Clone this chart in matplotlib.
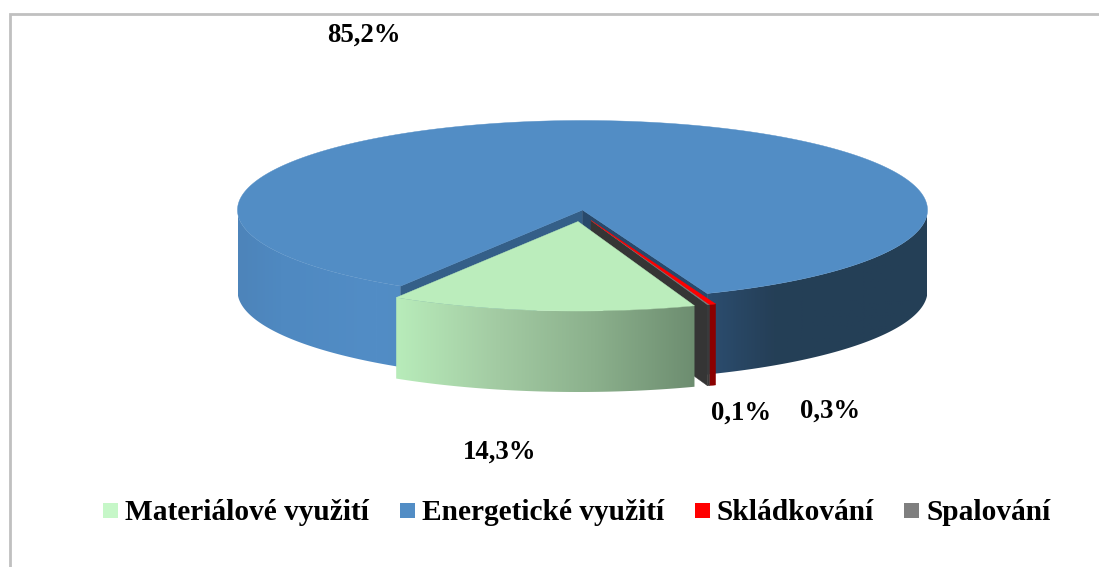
import numpy as np
import matplotlib
matplotlib.use("Agg")
import matplotlib.pyplot as plt
from matplotlib.patches import Polygon
from matplotlib.colors import LinearSegmentedColormap

# Data
categories = ['Materiálové využití', 'Energetické využití', 'Skládkování', 'Spalování']
shares = [14.3, 85.2, 0.3, 0.1]
share_labels = ['14,3%', '85,2%', '0,3%', '0,1%']

# Colours
top_colors = ['#bbedbc', '#528dc5', '#ff0000', '#7f7f7f']
legend_colors = ['#c6f7c8', '#528dc5', '#ff0000', '#7f7f7f']

plt.rcParams['font.family'] = ['Liberation Serif', 'DejaVu Serif']
plt.rcParams['font.weight'] = 'bold'

fig = plt.figure(figsize=(10.99, 5.67), dpi=100)
ax = fig.add_axes([0, 0, 1, 1])

# Pie geometry in pixels
cx, cy = 582.5, 210
rx, ry = 345, 89.5
depth = 81
offsets = [(-4.5, 11.5), (0, 0), (8.5, 10.5), (8.5, 10.5)]
zorder = [1]


def next_z():
    zorder[0] += 1
    return zorder[0]


def rim(theta_a, theta_b, dx=0, dy=0, drop=0, n=200):
    t = np.radians(np.linspace(theta_a, theta_b, n))
    return np.column_stack([cx + dx + rx * np.sin(t), cy + dy + drop - ry * np.cos(t)])


def wall(theta_a, theta_b, dx, dy):
    return np.vstack([rim(theta_a, theta_b, dx, dy), rim(theta_b, theta_a, dx, dy, depth)])


def gradient_wall(pts, cmap, x0, x1):
    # horizontal shading, clipped to the wall shape
    img = ax.imshow(np.linspace(0, 1, 700).reshape(1, -1), cmap=cmap, vmin=0, vmax=1,
                    extent=[x0, x1, 400, 200], aspect='auto', zorder=next_z(), interpolation='bilinear')
    patch = Polygon(pts, closed=True, transform=ax.transData, facecolor='none', edgecolor='none')
    ax.add_patch(patch)
    img.set_clip_path(patch)


def flat(pts, color):
    ax.add_patch(Polygon(pts, closed=True, facecolor=color, edgecolor=color, linewidth=0.3, zorder=next_z()))


# Angles, clockwise from the top of the ellipse
total = sum(shares)
spans = [s / total * 360 for s in shares]
green_end = 211.8
blue_end = green_end + spans[1]
red_end = blue_end + spans[2]
grey_end = red_end + spans[3]

blue_cmap = LinearSegmentedColormap.from_list('blue', [
    (0.0, '#4d84ba'), (0.06, '#4f89c1'), (0.2, '#528dc6'), (0.35, '#4f88bd'), (0.5, '#3f6f9e'),
    (0.69, '#2b4c6e'), (0.78, '#253f57'), (1.0, '#243f56')])
green_cmap = LinearSegmentedColormap.from_list('green', ['#b8ecba', '#a3cba3', '#8bb08c', '#6d8d70'])

# Energetické: outer walls, then the notch walls, then the top
gradient_wall(wall(90, blue_end - 360, 0, 0), blue_cmap, 238, 927)
gradient_wall(wall(green_end, 270, 0, 0), blue_cmap, 238, 927)
tip = np.array([[cx, cy]])
left_pt = rim(green_end, green_end, n=1)
right_pt = rim(blue_end, blue_end, n=1)
flat(np.vstack([tip, left_pt, left_pt + [0, depth], tip + [0, depth]]), '#345f88')
flat(np.vstack([tip, right_pt, right_pt + [0, depth], tip + [0, depth]]), '#28496b')
flat(np.vstack([tip, rim(green_end, blue_end, n=600)]), top_colors[1])

# Skládkování
dx, dy = offsets[2]
flat(wall(blue_end - 360, red_end - 360, dx, dy), '#8b0000')

# Spalování
dx, dy = offsets[3]
corner = rim(grey_end, grey_end, dx, dy, n=1)
grey_tip = np.array([[cx + dx, cy + dy]])
flat(np.vstack([grey_tip, corner, corner + [0, depth], grey_tip + [0, depth]]), '#353535')
flat(wall(red_end - 360, grey_end - 360, dx, dy), '#3a3a3a')
flat(np.vstack([grey_tip, rim(red_end, grey_end, dx, dy, n=5)]), top_colors[3])

# Skládkování top sits over the grey wall
dx, dy = offsets[2]
flat(np.vstack([[cx + dx, cy + dy], rim(blue_end, red_end, dx, dy, n=5)]), top_colors[2])

# Materiálové
dx, dy = offsets[0]
green_wall = wall(grey_end - 360, green_end, dx, dy)
gradient_wall(green_wall, green_cmap, green_wall[:, 0].min(), green_wall[:, 0].max())
flat(np.vstack([[cx + dx, cy + dy], rim(grey_end - 360, green_end, dx, dy)]), top_colors[0])

# Chart frame
ax.plot([9.5, 9.5, 1099], [567, 13.5, 13.5], color='#c0c0c0', linewidth=2, solid_joinstyle='miter', zorder=next_z())

# Data labels
label_pos = [(500, 452.5), (364, 35), (830, 411.5), (741, 413.5)]
for lab, (x, y) in zip(share_labels, label_pos):
    ax.text(x, y, lab, fontsize=19.3, fontweight='bold', ha='center', va='center', zorder=next_z())

# Legend
legend_x = [(103, 125), (400, 422), (694.5, 716.5), (904, 926)]
for name, col, (sx, tx) in zip(categories, legend_colors, legend_x):
    ax.add_patch(Polygon([[sx, 503], [sx + 15, 503], [sx + 15, 518], [sx, 518]], closed=True,
                         facecolor=col, edgecolor='none', zorder=next_z()))
    ax.text(tx, 512.5, name, fontsize=21.2, fontweight='bold', ha='left', va='center', zorder=next_z())

ax.set_xlim(0, 1099)
ax.set_ylim(567, 0)
ax.axis('off')

fig.savefig('out.png', dpi=100)
